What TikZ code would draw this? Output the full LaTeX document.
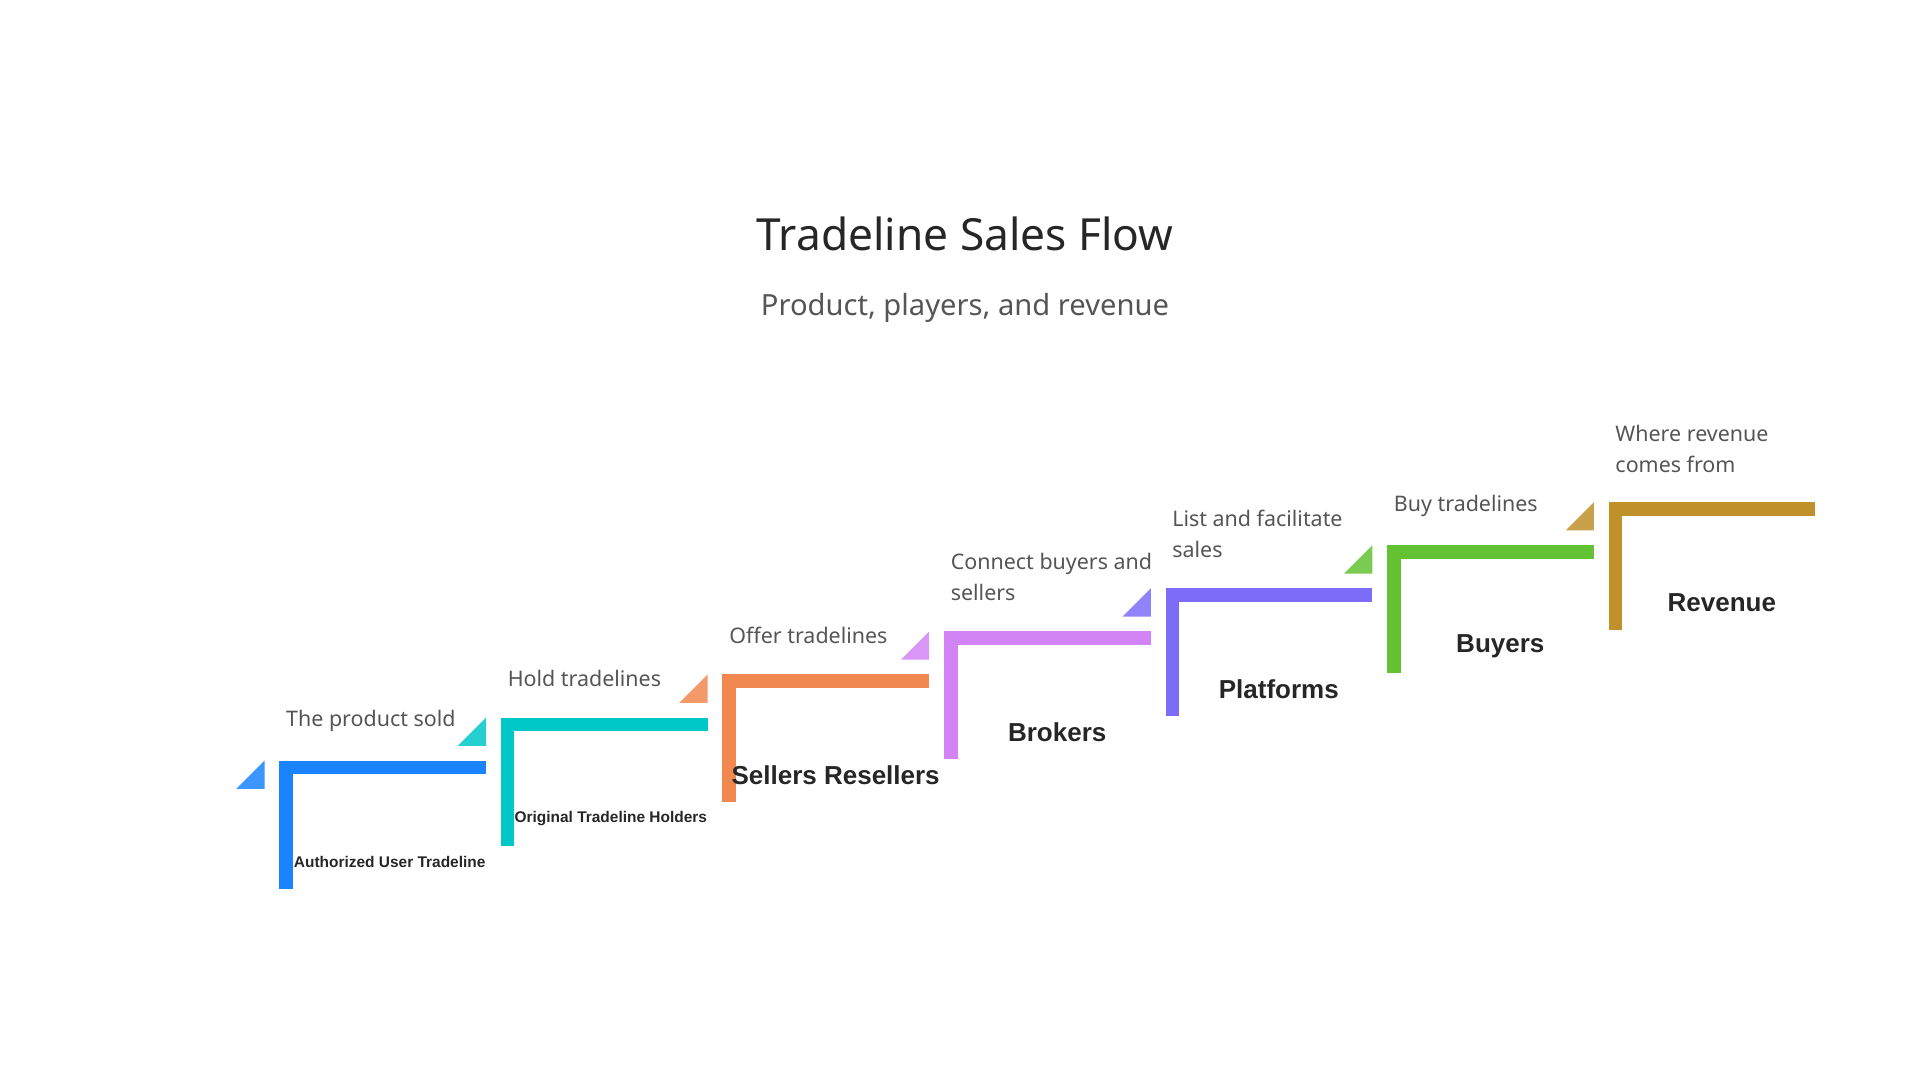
\documentclass[tikz,border=0pt]{standalone}
\usepackage{fontspec}
\setmainfont{Noto Sans}
\newfontfamily\rolefont{Liberation Sans}
\definecolor{cBlue}{HTML}{1A84FF}
\definecolor{cTeal}{HTML}{00C8C8}
\definecolor{cOrange}{HTML}{F08850}
\definecolor{cPink}{HTML}{D283F4}
\definecolor{cPurple}{HTML}{7C6CF8}
\definecolor{cGreen}{HTML}{62C232}
\definecolor{cGold}{HTML}{C0902A}
\definecolor{txtGray}{HTML}{555555}
\tikzset{
  note/.style={anchor=west,align=left,text=txtGray,font=\fontsize{6.1}{8.7}\selectfont,inner sep=0pt},
  role/.style={text=black!85,font=\rolefont\bfseries\fontsize{7.4}{9}\selectfont,inner sep=0pt},
  small role/.style={text=black!85,font=\rolefont\bfseries\fontsize{4.4}{5}\selectfont,inner sep=0pt,anchor=east}
}
\begin{document}
\begin{tikzpicture}[x=0.012308cm,y=-0.012308cm]
  \useasboundingbox (0,0) rectangle (1560,877.5);
  \node[font=\fontsize{12.6}{15}\selectfont,text=black!85] (title) at (784,190) {Tradeline Sales Flow};
  \node[font=\fontsize{8.3}{10}\selectfont,text=txtGray] (subtitle) at (784,250) {Product, players, and revenue};
  % steps
  \foreach \i/\c in {0/cBlue,1/cTeal,2/cOrange,3/cPink,4/cPurple,5/cGreen,6/cGold} {
    \pgfmathsetmacro{\xl}{227+180*\i}
    \pgfmathsetmacro{\yt}{618-35*\i}
    \fill[\c] (\xl,\yt) rectangle ++(11,104);
    \fill[\c] (\xl,\yt) rectangle ++(168,11);
    \fill[\c!85!white] (\xl-12,\yt) -- (\xl-12,\yt+23) -- (\xl-35,\yt+23) -- cycle;
  }
  % labels above
  \node[note] (n1) at (232,586) {The product sold};
  \node[note] (n2) at (412,551) {Hold tradelines};
  \node[note] (n3) at (592,516) {Offer tradelines};
  \node[note] (n4) at (772,469) {Connect buyers and\\sellers};
  \node[note] (n5) at (952,434) {List and facilitate\\sales};
  \node[note] (n6) at (1132,411) {Buy tradelines};
  \node[note] (n7) at (1312,365) {Where revenue\\comes from};
  % players
  \node[small role] (p1) at (395,700) {Authorized User Tradeline};
  \node[small role] (p2) at (575,665) {Original Tradeline Holders};
  \node[role] (p3) at (679,630) {Sellers Resellers};
  \node[role] (p4) at (859,595) {Brokers};
  \node[role] (p5) at (1039,560) {Platforms};
  \node[role] (p6) at (1219,525) {Buyers};
  \node[role] (p7) at (1399,490) {Revenue};
\end{tikzpicture}
\end{document}
